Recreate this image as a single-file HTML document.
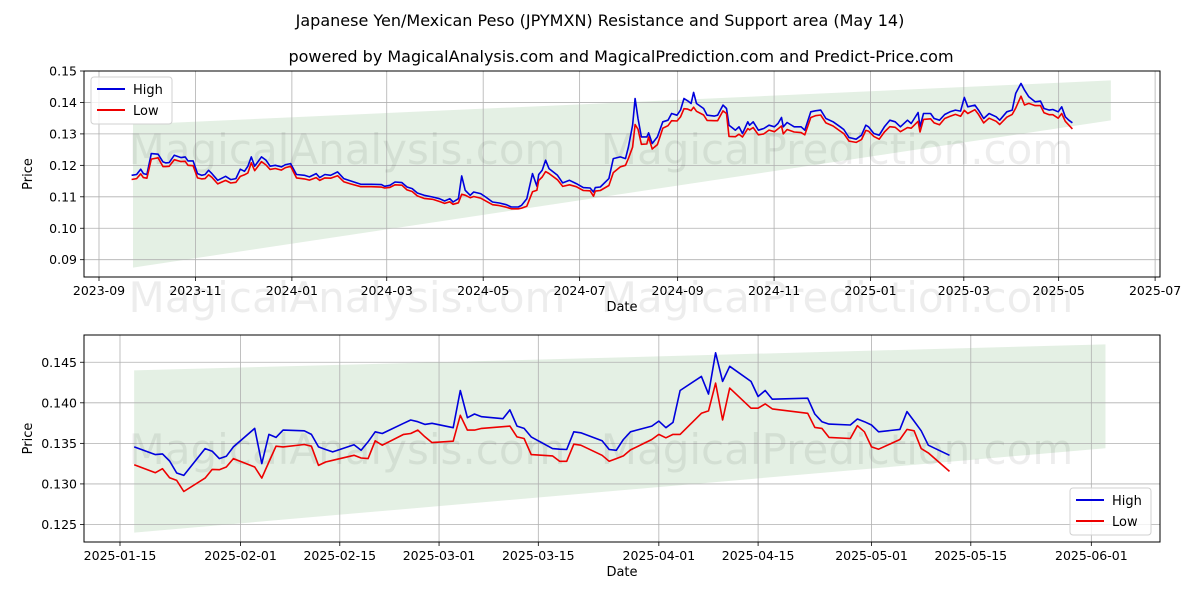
<!DOCTYPE html>
<html><head><meta charset="utf-8"><style>
html,body{margin:0;padding:0;background:#fff;}
svg{display:block;font-family:"DejaVu Sans","Liberation Sans",sans-serif;}
</style></head><body>
<svg id="chart" width="1200" height="600" viewBox="0 0 1200 600" xmlns="http://www.w3.org/2000/svg">
<rect width="1200" height="600" fill="#fff"/>
<text x="600" y="26" text-anchor="middle" font-size="16" fill="#000">Japanese Yen/Mexican Peso (JPYMXN) Resistance and Support area (May 14)</text>
<text x="621" y="62" text-anchor="middle" font-size="16" fill="#000">powered by MagicalAnalysis.com and MagicalPrediction.com and Predict-Price.com</text>
<g id="top"></g>
<g id="bot"></g>
</svg>
<script>
// ---------- TOP CHART DATA (days since 2023-09-01) ----------
const topDays = [20.6,23.8,26.4,28.1,30.3,33.1,37.4,40.5,42.2,44.4,47.6,51.9,54.5,56.3,59.5,62.3,64.9,67.1,69.3,71.4,75.1,80.1,83.3,86.6,89.4,92,94.2,96.3,98.5,102.8,105.6,108.2,111.5,115.4,118,121.2,124.9,129.9,133.1,137.4,139.6,142.9,146.5,150.9,154.8,159.1,165.6,172.1,178.6,180.7,184,187.2,191.6,194.8,198.1,201.3,205.6,211,215.4,218.6,221.9,224,227.3,229.4,231.6,234.8,237,241.3,244.6,248.9,253.2,257.6,260.8,265.2,267.3,270.6,274.2,277,278.1,280.3,282.5,284.6,290,293.3,297.6,301.9,306.3,310.6,312.8,313.9,317.1,322.5,325.3,329.7,333,334.8,337.5,339.1,340.9,343.1,346.5,347.6,349.9,353.2,356.6,359.9,362.2,365.6,367.8,370,372.3,374.5,376.1,377.9,382.4,384.6,389.1,391.3,394.7,396.9,398.5,402.5,404.8,407,410.4,411.5,413.8,417.1,420.5,423.8,427.2,429.5,431.7,432.8,435.2,439.7,444.1,446.4,450.2,453.1,456.5,459.8,464.3,468.8,471.1,474.4,478.9,482.3,485,486.7,490.1,493.5,496.8,500.2,503.6,506.9,511.4,513.7,518.1,519.3,521.5,526,528.2,531.6,534.9,538.3,541.7,545,547.3,549.5,554,556.3,559.6,563,567.5,569.7,574.2,577.6,579.8,583.2,585.4,588.1,592.1,595.5,597.7,601.1,603.3,606.7,608.9,611.2,613.4,615.7];
const topHigh = [.11685,.1171,.11876,.11738,.1171,.12375,.12354,.1211,.12078,.12088,.12322,.12248,.12269,.12142,.12142,.11738,.11685,.1171,.11844,.11738,.11526,.11653,.11547,.11579,.11876,.11812,.11972,.12269,.11972,.12269,.12163,.11972,.12003,.1195,.12025,.12057,.1171,.11685,.11632,.11738,.11611,.1171,.11685,.11791,.11579,.11504,.11398,.11398,.11388,.11334,.11366,.11472,.11451,.11313,.1126,.11122,.11048,.10995,.10941,.10867,.10941,.10835,.10941,.11664,.11207,.11048,.11154,.11101,.10995,.10835,.10803,.1075,.10676,.10676,.10729,.10941,.11738,.11334,.1171,.11844,.12163,.11897,.11685,.11441,.11526,.1142,.11292,.11281,.11154,.11292,.11313,.11579,.12216,.12269,.12216,.12566,.13278,.14127,.1349,.12906,.12906,.13034,.12694,.12906,.13384,.13437,.1365,.13596,.13756,.14127,.14053,.13968,.14319,.13968,.13809,.13596,.13565,.13596,.13915,.13809,.13278,.13119,.13225,.13012,.13384,.13278,.13384,.13119,.13172,.13278,.13225,.13331,.13522,.13225,.13363,.13225,.13225,.13119,.13703,.13735,.13756,.1349,.13384,.13225,.1314,.12885,.12832,.12959,.13278,.13225,.13012,.12959,.13225,.13437,.13384,.13225,.13437,.13331,.13681,.13225,.1365,.1365,.1349,.13437,.13618,.13703,.13756,.13724,.14159,.13862,.13915,.13756,.1349,.1365,.13543,.13437,.13703,.13756,.14287,.14605,.14393,.1418,.14021,.14042,.13809,.13756,.13777,.13703,.13862,.13543,.13437,.13352];
const topLow = [.1155,.1158,.1173,.1161,.1159,.1220,.1224,.1196,.1196,.1197,.1218,.1212,.1213,.1200,.1199,.1160,.1157,.1158,.1170,.1162,.1141,.1152,.1144,.1146,.1165,.1170,.1176,.1208,.1183,.1212,.1201,.1187,.1190,.1185,.1193,.1197,.1160,.1157,.1153,.1161,.1152,.1160,.1159,.1167,.1148,.1141,.1132,.1132,.1131,.1128,.1130,.1138,.1137,.1122,.1117,.1103,.1095,.1092,.1085,.1079,.1084,.1076,.1081,.1108,.1105,.1097,.1101,.1096,.1087,.1075,.1072,.1067,.1062,.1062,.1064,.1070,.1116,.1121,.1152,.1163,.1180,.1174,.1154,.1133,.1138,.1132,.1120,.1119,.1102,.1118,.1120,.1136,.1177,.1195,.1200,.1221,.1258,.1330,.1315,.1267,.1268,.1290,.1252,.1266,.1318,.1326,.1342,.1341,.1354,.1380,.1379,.1374,.1385,.1372,.1360,.1343,.1342,.1342,.1373,.1365,.1292,.1291,.1299,.1290,.1317,.1313,.1320,.1297,.1300,.1312,.1307,.1316,.1325,.1300,.1314,.1306,.1304,.1297,.1352,.1358,.1360,.1335,.1325,.1309,.1301,.1277,.1273,.1282,.1311,.1309,.1292,.1283,.1306,.1323,.1321,.1307,.1320,.1318,.1340,.1306,.1346,.1348,.1335,.1329,.1349,.1356,.1362,.1356,.1375,.1365,.1377,.1362,.1335,.1350,.1340,.1330,.1353,.1362,.1382,.1420,.1392,.1397,.1390,.1390,.1367,.1361,.1361,.1350,.1365,.1340,.1328,.1316];
const topBandDays = [21.5, 640];
const topBandUpper = [0.1330, 0.1470];
const topBandLower = [0.0875, 0.1343];
const topYTicks = [0.09,0.10,0.11,0.12,0.13,0.14,0.15];
const topYTickLabels = ["0.09","0.10","0.11","0.12","0.13","0.14","0.15"];
const topXTickDays = [0,61,122,182,243,304,366,427,488,547,607,668];
const topXTickLabels = ["2023-09","2023-11","2024-01","2024-03","2024-05","2024-07","2024-09","2024-11","2025-01","2025-03","2025-05","2025-07"];

// ---------- BOTTOM CHART DATA ----------
const botDates = ["2025-01-17","2025-01-20","2025-01-21","2025-01-22","2025-01-23","2025-01-24","2025-01-27","2025-01-28","2025-01-29","2025-01-30","2025-01-31","2025-02-03","2025-02-04","2025-02-05","2025-02-06","2025-02-07","2025-02-10","2025-02-11","2025-02-12","2025-02-13","2025-02-14","2025-02-17","2025-02-18","2025-02-19","2025-02-20","2025-02-21","2025-02-24","2025-02-25","2025-02-26","2025-02-27","2025-02-28","2025-03-03","2025-03-04","2025-03-05","2025-03-06","2025-03-07","2025-03-10","2025-03-11","2025-03-12","2025-03-13","2025-03-14","2025-03-17","2025-03-18","2025-03-19","2025-03-20","2025-03-21","2025-03-24","2025-03-25","2025-03-26","2025-03-27","2025-03-28","2025-03-31","2025-04-01","2025-04-02","2025-04-03","2025-04-04","2025-04-07","2025-04-08","2025-04-09","2025-04-10","2025-04-11","2025-04-14","2025-04-15","2025-04-16","2025-04-17","2025-04-22","2025-04-23","2025-04-24","2025-04-25","2025-04-28","2025-04-29","2025-04-30","2025-05-01","2025-05-02","2025-05-05","2025-05-06","2025-05-07","2025-05-08","2025-05-09","2025-05-12"];
const botHigh = [.13456,.13361,.1337,.13283,.13134,.13105,.13436,.13403,.13312,.13341,.13456,.13684,.1325,.1361,.13573,.13664,.13655,.1361,.13456,.13424,.13395,.13482,.13415,.13519,.13643,.13622,.13747,.13788,.13767,.13734,.13747,.13693,.14152,.13817,.13862,.13829,.13804,.13912,.13713,.13684,.1358,.13436,.13428,.13424,.13643,.1363,.13531,.13424,.13415,.13548,.13643,.13713,.13775,.13693,.13759,.14152,.14326,.14107,.14616,.14264,.1445,.14264,.14078,.14152,.14045,.14057,.13862,.13767,.13738,.13726,.138,.13767,.13726,.13643,.13672,.13891,.13775,.13655,.13477,.13353];
const botLow = [.13237,.13138,.13188,.13076,.13043,.12906,.13072,.13179,.13175,.13208,.13312,.13208,.13072,.1327,.13465,.13456,.13486,.13465,.13228,.1327,.13291,.13353,.1332,.13312,.13531,.13477,.1361,.13622,.13664,.13581,.1351,.13527,.13846,.13664,.13664,.13684,.13705,.13713,.1358,.1356,.13361,.13345,.13279,.13279,.1349,.13477,.13353,.13279,.13312,.13345,.1342,.13548,.1361,.13569,.1361,.1361,.13871,.139,.14243,.13788,.14181,.13933,.13933,.13987,.13925,.13871,.13697,.13684,.13573,.1356,.13718,.13643,.13456,.13428,.13548,.13672,.13655,.13436,.13382,.13154];
const botBandDates = ["2025-01-17","2025-06-03"];
const botBandUpper = [0.1440, 0.1472];
const botBandLower = [0.1240, 0.1344];
const botYTicks = [0.125,0.130,0.135,0.140,0.145];
const botYTickLabels = ["0.125","0.130","0.135","0.140","0.145"];
const botXTickDates = ["2025-01-15","2025-02-01","2025-02-15","2025-03-01","2025-03-15","2025-04-01","2025-04-15","2025-05-01","2025-05-15","2025-06-01"];

const NS = "http://www.w3.org/2000/svg";
function mk(parent, tag, attrs, text){
  const e = document.createElementNS(NS, tag);
  for (const k in attrs) e.setAttribute(k, attrs[k]);
  if (text !== undefined) e.textContent = text;
  parent.appendChild(e);
  return e;
}
const dayOf = s => (Date.UTC(+s.slice(0,4), +s.slice(5,7)-1, +s.slice(8,10)) - Date.UTC(2025,0,15)) / 86400000;

function drawPanel(g, o){
  const {L,R,T,B,x,y} = o;
  const bx0=x(o.bandX[0]), bx1=x(o.bandX[1]);
  const band = mk(g,"polygon",{points:`${bx0},${y(o.bandU[0])} ${bx1},${y(o.bandU[1])} ${bx1},${y(o.bandL[1])} ${bx0},${y(o.bandL[0])}`, fill:"#2e8b2e", "fill-opacity":"0.13"});
  
  
  o.yt.forEach((v,i)=>{
    const yy=y(v);
    const gl = mk(g,"line",{x1:L,x2:R,y1:yy,y2:yy,stroke:"#b0b0b0","stroke-width":0.8});
    
    
    mk(g,"line",{x1:L-4,x2:L,y1:yy,y2:yy,stroke:"#000","stroke-width":0.8});
    const t = mk(g,"text",{x:L-7,y:yy+4.5,"text-anchor":"end","font-size":12.5,fill:"#000"}, o.ytl[i]);
    
    
  });
  o.xt.forEach((v,i)=>{
    const xx=x(v);
    const gl = mk(g,"line",{x1:xx,x2:xx,y1:T,y2:B,stroke:"#b0b0b0","stroke-width":0.8});
    
    
    mk(g,"line",{x1:xx,x2:xx,y1:B,y2:B+4,stroke:"#000","stroke-width":0.8});
    const t = mk(g,"text",{x:xx,y:B+18,"text-anchor":"middle","font-size":12.5,fill:"#000"}, o.xtl[i]);
    
    
  });
  o.wm.forEach(w=>{
    const t = mk(g,"text",{x:w[0],y:w[1],"text-anchor":"middle","font-size":42,fill:"#000","fill-opacity":"0.07"}, w[2]);
    
    
  });
  const line = (xs, vs, col, name)=>{
    const p = mk(g,"polyline",{points:xs.map((d,i)=>x(d).toFixed(1)+","+y(vs[i]).toFixed(1)).join(" "),fill:"none",stroke:col,"stroke-width":1.6,"stroke-linejoin":"round"});
    
    
  };
  line(o.xs, o.high, "#0000dd", "high-line");
  line(o.xs, o.low, "#ee0000", "low-line");
  const fr = mk(g,"rect",{x:L,y:T,width:R-L,height:B-T,fill:"none",stroke:"#000","stroke-width":1});
  
  
  const xl = mk(g,"text",{x:(L+R)/2,y:B+34,"text-anchor":"middle","font-size":13,fill:"#000"},"Date");
  
  
  const yl = mk(g,"text",{x:0,y:0,"text-anchor":"middle","font-size":13,fill:"#000",transform:`translate(${L-52},${(T+B)/2}) rotate(-90)`},"Price");
  
  
  const [lx,ly]=o.leg;
  const lg = mk(g,"g",{});
  
  
  mk(lg,"rect",{x:lx,y:ly,width:81,height:47,rx:3,fill:"#fff","fill-opacity":"0.8",stroke:"#d0d0d0"});
  const e1 = mk(lg,"g",{});
  
  
  mk(e1,"line",{x1:lx+6,x2:lx+34,y1:ly+12,y2:ly+12,stroke:"#0000dd","stroke-width":2});
  mk(e1,"text",{x:lx+42,y:ly+17,"font-size":13,fill:"#000"},"High");
  const e2 = mk(lg,"g",{});
  
  
  mk(e2,"line",{x1:lx+6,x2:lx+34,y1:ly+33,y2:ly+33,stroke:"#ee0000","stroke-width":2});
  mk(e2,"text",{x:lx+42,y:ly+38,"font-size":13,fill:"#000"},"Low");
}

(function(){
  const L=84,R=1160,T=71,B=277;
  const x = d => 99 + d*1.581;
  const y = v => T + (0.150 - v)*3145;
  drawPanel(document.getElementById("top"), {L,R,T,B,x,y,
    bandX:topBandDays, bandU:topBandUpper, bandL:topBandLower,
    yt:topYTicks, ytl:topYTickLabels, xt:topXTickDays, xtl:topXTickLabels,
    xs:topDays, high:topHigh, low:topLow, leg:[91,77],
    wm:[[347,164,"MagicalAnalysis.com"],[837,164,"MagicalPrediction.com"],[347,312,"MagicalAnalysis.com"],[837,312,"MagicalPrediction.com"]]});
})();
(function(){
  const L=84,R=1160,T=335,B=542;
  const x = d => 120 + d*7.09;
  const y = v => T + (0.14836 - v)*8111;
  drawPanel(document.getElementById("bot"), {L,R,T,B,x,y,
    bandX:botBandDates.map(dayOf), bandU:botBandUpper, bandL:botBandLower,
    yt:botYTicks, ytl:botYTickLabels, xt:botXTickDates.map(dayOf), xtl:botXTickDates,
    xs:botDates.map(dayOf), high:botHigh, low:botLow, leg:[1070,488],
    wm:[[347,464,"MagicalAnalysis.com"],[837,464,"MagicalPrediction.com"]]});
})();
</script>
</body></html>
